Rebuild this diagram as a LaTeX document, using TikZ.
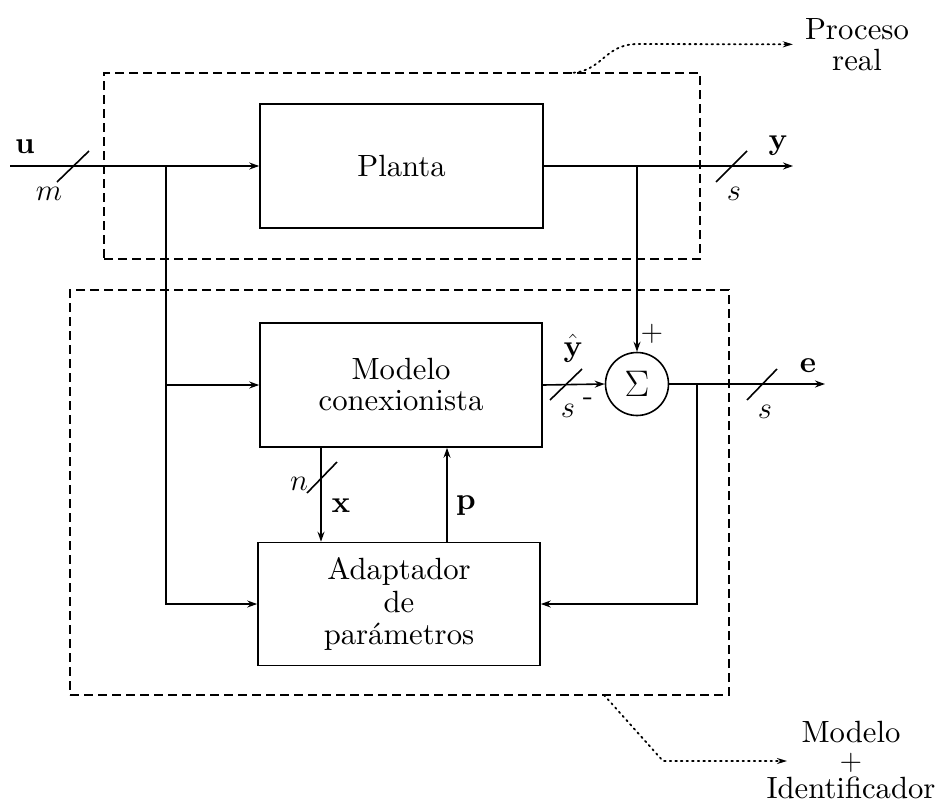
\RequirePackage{fix-cm}
\documentclass[tikz,border=0pt]{standalone}
\usepackage{fontspec}
\setmainfont{lmroman10-regular.otf}[BoldFont=lmroman10-bold.otf, ItalicFont=lmroman10-italic.otf, BoldItalicFont=lmroman10-bolditalic.otf]
\usetikzlibrary{arrows.meta}
\begin{document}
\begin{tikzpicture}[x=1pt,y=-1pt,
  every node/.style={font=\fontsize{30.7}{31}\selectfont, inner sep=0pt},
  blk/.style={draw, line width=1.6pt, minimum width=283pt, minimum height=124pt, align=center},
  sig/.style={line width=1.6pt, -{Stealth[length=10pt,width=7pt]}},
  bus/.style={line width=1.6pt},
  frame/.style={draw, line width=1.8pt, dash pattern=on 9pt off 5pt},
  pointer/.style={line width=1.8pt, dash pattern=on 1.6pt off 4pt, line cap=round, -{Stealth[length=10pt,width=6pt]}},
  lbl/.style={anchor=base}]
\useasboundingbox (0,0) rectangle (939,803);

% dashed frames
\node[frame, minimum width=596pt, minimum height=186pt] (proc) at (402,166) {};
\node[frame, minimum width=659pt, minimum height=405pt] (ident) at (399.5,492.5) {};

% blocks
\node[blk] (planta) at (401.5,166) {Planta};
\node[blk, minimum width=282pt] (modelo) at (401,385) {Modelo\\conexionista};
\node[blk, minimum width=282pt, minimum height=123pt, font=\fontsize{30.7}{32.5}\selectfont] (adapt) at (399,604) {Adaptador\\de\\parámetros};
\node[draw, circle, line width=1.6pt, minimum size=63pt, font=\fontsize{37}{40}\selectfont] (sum) at (637,384) {$\Sigma$};

% coordinates
\coordinate (uin) at (10,166);
\coordinate (ju) at (166,166);
\coordinate (yout) at (793,166);
\coordinate (jy) at (637,166);
\coordinate (eout) at (825,384);
\coordinate (je) at (697,384);

% signals
\draw[sig] (uin) -- (planta.west);
\draw[sig] (ju) |- (adapt.west);
\draw[sig] (ju |- modelo.west) -- (modelo.west);
\draw[sig] (planta.east) -- (yout);
\draw[sig] (jy) -- (sum.north);
\draw[sig] (modelo.east) -- (sum.west);
\draw[sig] (sum.east) -- (eout);
\draw[sig] (je) |- (adapt.east);
\draw[sig] ([xshift=-80pt]modelo.south) -- ([xshift=-80pt]modelo.south |- adapt.north);
\draw[sig] ([xshift=46pt]modelo.south |- adapt.north) -- ([xshift=46pt]modelo.south);

% bus slashes
\draw[bus] (57,182) -- (89,151);
\draw[bus] (716,182) -- (747,151);
\draw[bus] (550,400) -- (582,369);
\draw[bus] (747,400) -- (777,369);
\draw[bus] (307,493) -- (337,462);

% labels
\node[lbl] (lu) at (25,153) {$\mathbf{u}$};
\node[lbl] (lm) at (49,200) {$m$};
\node[lbl] (ly) at (778,149) {$\mathbf{y}$};
\node[lbl] (ls1) at (734,200) {$s$};
\node[lbl] (lyh) at (573,356) {$\hat{\mathbf{y}}$};
\node[lbl] (ls2) at (568,417) {$s$};
\node[lbl] (lminus) at (588,405) {-};
\node[lbl] (lplus) at (652,341) {$+$};
\node[lbl] (le) at (808,372) {$\mathbf{e}$};
\node[lbl] (ls3) at (765,418) {$s$};
\node[lbl] (ln) at (299,490) {$n$};
\node[lbl] (lx) at (341,512) {$\mathbf{x}$};
\node[lbl] (lp) at (466,509) {$\mathbf{p}$};

% outer labels
\node[anchor=north, align=center] (lproc) at (857,18) {Proceso\\real};
\node[anchor=north, align=center, font=\fontsize{30.7}{28}\selectfont] (lident) at (851,721) {Modelo\\$+$\\Identificador};

\coordinate (pa) at (568,73);
\coordinate (pb) at (604,695);
\coordinate (tb) at (787,761);
\draw[pointer] (pa) .. controls (603,73) and (603,44) .. (638,44) -- ([xshift=-12pt]lproc.west);
\draw[pointer] (pb) -- (663,761) -- (tb);
\end{tikzpicture}
\end{document}
